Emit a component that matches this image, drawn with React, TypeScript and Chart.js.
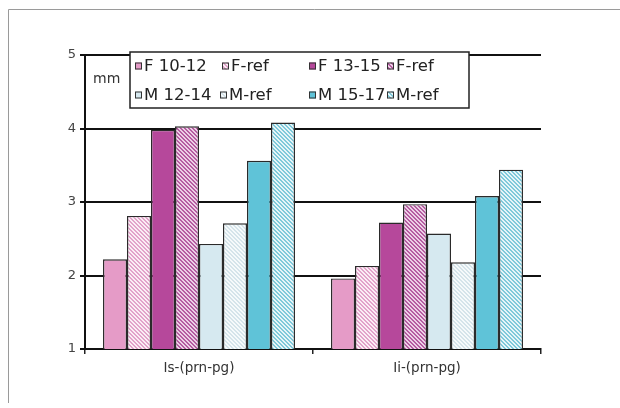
import React, { useEffect, useRef } from "react";
import { Chart, registerables } from "chart.js";

Chart.register(...registerables);

const categories = ["Is-(prn-pg)", "Ii-(prn-pg)"];
const seriesLabels = ["F 10-12", "F-ref", "F 13-15", "F-ref", "M 12-14", "M-ref", "M 15-17", "M-ref"];
const f1012 = [2.22, 1.96];
const fRefA = [2.81, 2.13];
const f1315 = [3.98, 2.72];
const fRefB = [4.03, 2.97];
const m1214 = [2.43, 2.57];
const mRefA = [2.71, 2.18];
const m1517 = [3.56, 3.08];
const mRefB = [4.08, 3.44];
const yTicks = [1, 2, 3, 4, 5];

function hatch(fg: string, bg: string): CanvasPattern | string {
  const c = document.createElement("canvas");
  c.width = 4;
  c.height = 4;
  const ctx = c.getContext("2d");
  if (!ctx) return fg;
  ctx.fillStyle = bg;
  ctx.fillRect(0, 0, 4, 4);
  ctx.fillStyle = fg;
  for (let y = 0; y < 4; y++) {
    for (let x = 0; x < 4; x++) {
      if ((((x - y) % 4) + 4) % 4 < 2) ctx.fillRect(x, y, 1, 1);
    }
  }
  return ctx.createPattern(c, "repeat") || fg;
}

const legendPos = [
  [144, 66], [231, 66], [318, 66], [396, 66],
  [144, 95], [229, 95], [318, 95], [396, 95],
];

const decorPlugin = {
  id: "decor",
  beforeDraw(chart: any) {
    const ctx = chart.ctx;
    ctx.save();
    ctx.strokeStyle = "#9a9a9a";
    ctx.lineWidth = 1;
    ctx.beginPath();
    ctx.moveTo(8.5, 403);
    ctx.lineTo(8.5, 9.5);
    ctx.lineTo(620, 9.5);
    ctx.stroke();
    ctx.restore();
  },
  afterDraw(chart: any) {
    const ctx = chart.ctx;
    ctx.save();
    ctx.fillStyle = "#333";
    ctx.font = "14px 'DejaVu Sans'";
    ctx.textBaseline = "middle";
    ctx.textAlign = "left";
    ctx.fillText("mm", 93, 79);
    ctx.fillStyle = "#fff";
    ctx.fillRect(130, 52, 339, 56);
    ctx.strokeStyle = "#222";
    ctx.lineWidth = 1.5;
    ctx.strokeRect(130, 52, 339, 56);
    ctx.font = "16.5px 'DejaVu Sans'";
    chart.data.datasets.forEach((ds: any, i: number) => {
      const [tx, ty] = legendPos[i];
      ctx.fillStyle = ds.backgroundColor;
      ctx.fillRect(tx - 9, ty - 3.5, 7, 7);
      ctx.strokeStyle = "#333";
      ctx.lineWidth = 1;
      ctx.strokeRect(tx - 9 + 0.5, ty - 3.5 + 0.5, 6, 6);
      ctx.fillStyle = "#222";
      ctx.fillText(ds.label, tx, ty + 1);
    });
    ctx.restore();
  },
};

export default function App() {
  const ref = useRef<HTMLCanvasElement>(null);
  useEffect(() => {
    if (!ref.current) return;
    const colors = [
      "#e59bc7",
      hatch("#e2a3ca", "#fbeef5"),
      "#b6489b",
      hatch("#b55ca1", "#ecd0e6"),
      "#d6e9f0",
      hatch("#d5e4ea", "#f6fafb"),
      "#5fc3d8",
      hatch("#7fc9da", "#e6f5f8"),
    ];
    const values = [f1012, fRefA, f1315, fRefB, m1214, mRefA, m1517, mRefB];
    const chart = new Chart(ref.current, {
      type: "bar",
      data: {
        labels: categories,
        datasets: values.map((v, i) => ({
          label: seriesLabels[i],
          data: v,
          backgroundColor: colors[i] as any,
          borderColor: "#2a2a2a",
          borderWidth: 1.4,
          categoryPercentage: 0.842,
          barPercentage: 1.0,
        })),
      },
      options: {
        animation: false,
        responsive: false,
        maintainAspectRatio: false,
        layout: { padding: { left: 8, right: 79, top: 55, bottom: 29 } },
        plugins: { legend: { display: false }, tooltip: { enabled: false } },
        scales: {
          x: {
            afterFit: (s: any) => { s.height = 30; },
            grid: { drawOnChartArea: false, drawTicks: true, tickLength: 5, color: "#222", lineWidth: 1.5 },
            border: { color: "#111", width: 2 },
            ticks: { color: "#333", font: { family: "'DejaVu Sans'", size: 13.5 }, padding: 6 },
          },
          y: {
            min: 1,
            max: 5,
            afterFit: (s: any) => { s.width = 77; },
            afterBuildTicks: (s: any) => { s.ticks = yTicks.map((v) => ({ value: v })); },
            grid: { color: "#111", lineWidth: 2, drawTicks: true, tickLength: 5 },
            border: { color: "#111", width: 2 },
            ticks: { color: "#444", font: { family: "'DejaVu Sans'", size: 13 }, padding: 4, stepSize: 1 },
          },
        },
      },
      plugins: [decorPlugin],
    });
    return () => chart.destroy();
  }, []);
  return (
    <div style={{ position: "absolute", left: 0, top: 0, width: 620, height: 408, background: "#fff" }}>
      <canvas ref={ref} width={620} height={408} style={{ display: "block", width: 620, height: 408 }} />
    </div>
  );
}
